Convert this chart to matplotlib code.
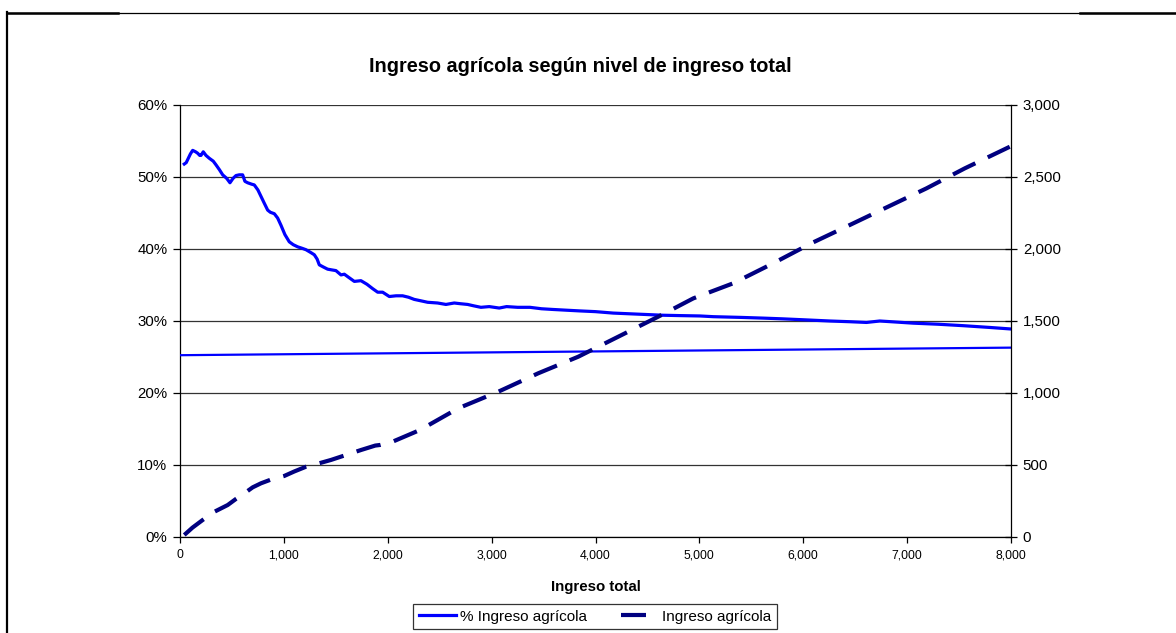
import matplotlib
matplotlib.use("Agg")
import matplotlib.pyplot as plt
from matplotlib.lines import Line2D
from matplotlib.ticker import FuncFormatter, MultipleLocator

plt.rcParams['font.family'] = ['Liberation Sans', 'DejaVu Sans']

# Ingreso total (x) and share of agricultural income (%)
ingreso_total_pct = [41, 60, 100, 122, 150, 170, 190, 202, 224, 250, 282, 320, 346, 380, 411,
                     450, 481, 510, 539, 570, 603, 625, 651, 690, 715, 750, 780, 810, 844, 870,
                     908, 940, 972, 1010, 1052, 1090, 1133, 1175, 1213, 1260, 1293, 1320, 1341,
                     1380, 1421, 1460, 1501, 1550, 1582, 1620, 1678, 1742, 1800, 1854, 1903,
                     1951, 2015, 2080, 2143, 2200, 2255, 2320, 2384, 2480, 2560, 2640, 2700,
                     2769, 2830, 2897, 2977, 3073, 3144, 3250, 3369, 3480, 3593, 3720, 3850,
                     4000, 4170, 4330, 4491, 4650, 4812, 5005, 5134, 5400, 5615, 5800, 6032,
                     6256, 6450, 6609, 6737, 6900, 7058, 7300, 7540, 7800, 7990]
pct_ingreso_agricola = [51.8, 52.0, 53.2, 53.7, 53.5, 53.3, 53.0, 53.0, 53.5, 53.0, 52.6, 52.2,
                        51.7, 51.0, 50.3, 49.8, 49.2, 49.8, 50.2, 50.3, 50.3, 49.4, 49.2, 49.0,
                        48.9, 48.2, 47.3, 46.4, 45.4, 45.1, 44.9, 44.3, 43.3, 42.0, 41.0, 40.6,
                        40.3, 40.1, 39.9, 39.5, 39.2, 38.6, 37.8, 37.5, 37.2, 37.1, 37.0, 36.4,
                        36.5, 36.1, 35.5, 35.6, 35.1, 34.5, 34.0, 34.0, 33.4, 33.5, 33.5, 33.3,
                        33.0, 32.8, 32.6, 32.5, 32.3, 32.5, 32.4, 32.3, 32.1, 31.9, 32.0, 31.8,
                        32.0, 31.9, 31.9, 31.7, 31.6, 31.5, 31.4, 31.3, 31.1, 31.0, 30.9, 30.8,
                        30.75, 30.7, 30.6, 30.5, 30.4, 30.3, 30.15, 30.0, 29.9, 29.8, 30.0,
                        29.85, 29.7, 29.55, 29.35, 29.1, 28.9]

# Straight reference line on the percentage axis
ingreso_total_recta = [0, 8000]
pct_recta = [25.25, 26.3]

# Ingreso total (x) and agricultural income (right axis)
ingreso_total_abs = [41, 120, 218, 330, 459, 540, 619, 700, 780, 880, 1004, 1100, 1213, 1330,
                     1453, 1600, 1742, 1880, 1925, 2047, 2310, 2679, 3064, 3449, 3834, 4219,
                     4604, 4941, 5326, 5711, 6078, 6449, 6817, 7186, 7555, 7988]
ingreso_agricola = [14, 65, 118, 175, 222, 265, 303, 345, 373, 400, 424, 455, 488, 510, 535,
                    570, 604, 635, 639, 662, 743, 894, 1009, 1137, 1252, 1391, 1530, 1657,
                    1762, 1901, 2040, 2167, 2294, 2421, 2560, 2710]

x_ticks = [0, 1000, 2000, 3000, 4000, 5000, 6000, 7000, 8000]

W, H = 1176, 633
fig = plt.figure(figsize=(W / 100, H / 100), dpi=100)
ax = fig.add_axes([180 / W, 1 - 537 / H, (1011 - 180) / W, (537 - 105) / H])
ax2 = ax.twinx()

blue = '#0000FF'
navy = '#000080'

ax.plot(ingreso_total_pct, pct_ingreso_agricola, color=blue, lw=2.3, zorder=3,
        label='% Ingreso agrícola')
ax.plot(ingreso_total_recta, pct_recta, color=blue, lw=1.6, zorder=3)
ax2.plot(ingreso_total_abs, ingreso_agricola, color=navy, lw=3.0, dashes=(6, 3.3),
         label='Ingreso agrícola')

ax.set_xlim(0, 8000)
ax.set_ylim(0, 60)
ax2.set_ylim(0, 3000)
ax.set_xticks(x_ticks)
ax.xaxis.set_major_formatter(FuncFormatter(lambda v, p: f"{v:,.0f}"))
ax.yaxis.set_major_locator(MultipleLocator(10))
ax.yaxis.set_major_formatter(FuncFormatter(lambda v, p: f"{v:.0f}%"))
ax2.yaxis.set_major_locator(MultipleLocator(500))
ax2.yaxis.set_major_formatter(FuncFormatter(lambda v, p: f"{v:,.0f}"))

ax.grid(axis='y', color='#333333', lw=0.9)
ax.set_axisbelow(True)

for a in (ax, ax2):
    a.spines['top'].set_visible(False)
    for s in a.spines.values():
        s.set_color('black')
        s.set_linewidth(0.9)
ax.spines['right'].set_visible(False)
ax2.spines['left'].set_visible(False)
ax2.spines['bottom'].set_visible(False)

ax.tick_params(axis='y', direction='out', length=5, width=0.9, labelsize=10.8, pad=4)
ax.tick_params(axis='x', direction='out', length=4, width=0.9, labelsize=8.8, pad=5)
ax2.tick_params(axis='y', direction='inout', length=9, width=0.9, labelsize=10.8, pad=4)

ax.set_xlabel('Ingreso total', fontsize=10.8, fontweight='bold', labelpad=13)
fig.text(580 / W, 1 - 66 / H, 'Ingreso agrícola según nivel de ingreso total',
         ha='center', va='center', fontsize=14.3, fontweight='bold')

h1, l1 = ax.get_legend_handles_labels()
h2, l2 = ax2.get_legend_handles_labels()
leg = fig.legend(h1 + h2, l1 + l2, loc='lower center', bbox_to_anchor=(595 / W, 4 / H),
                 ncol=2, fontsize=11, frameon=True, fancybox=False, edgecolor='black',
                 handlelength=2.45, handletextpad=0.25, columnspacing=2.2, borderpad=0.35,
                 borderaxespad=0)
leg.get_frame().set_linewidth(0.9)

# Outer frame of the chart area
def fig_line(xs, ys, lw):
    fig.add_artist(Line2D([x / W for x in xs], [1 - y / H for y in ys],
                          transform=fig.transFigure, color='black', lw=lw))

fig_line([7, 1176], [12.5, 12.5], 0.9)
fig_line([7, 7], [12, 633], 1.6)
fig_line([7, 118], [12.5, 12.5], 1.8)
fig_line([1080, 1176], [12.5, 12.5], 1.8)

fig.savefig('out.png', dpi=100)
